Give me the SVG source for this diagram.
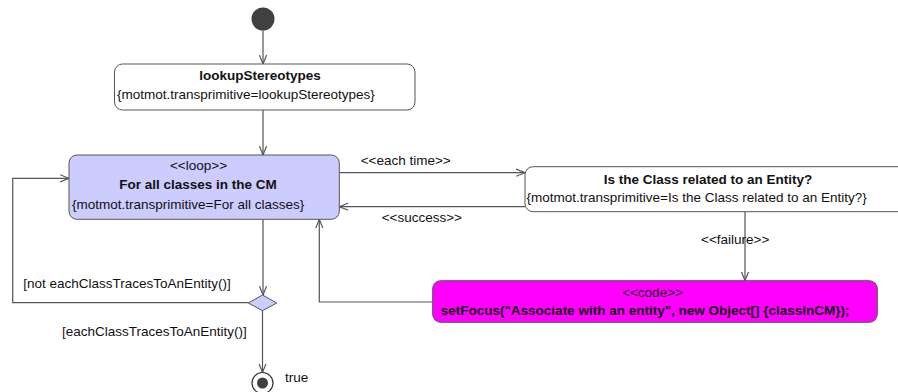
<svg xmlns="http://www.w3.org/2000/svg" width="898" height="392" viewBox="0 0 898 392">
  <style>
    text { font-family: "Liberation Sans", Arial, sans-serif; font-size: 13.5px; fill: #111; }
    .b { font-weight: bold; }
    .mid { text-anchor: middle; }
    .box { stroke: #555; stroke-width: 1; }
    .edge { fill: none; stroke: #555; stroke-width: 1.2; }
  </style>
  <defs>
    <marker id="arrow" viewBox="0 0 10 10" refX="10" refY="5" markerWidth="9" markerHeight="9" markerUnits="userSpaceOnUse" orient="auto">
      <path d="M0,1 L10,5 L0,9" fill="none" stroke="#555" stroke-width="1.3"/>
    </marker>
  </defs>

  <!-- connectors -->
  <g id="connectors">
    <path class="edge" d="M263,30.5 L263,64" marker-end="url(#arrow)"/>
    <path class="edge" d="M263,110 L263,155" marker-end="url(#arrow)"/>
    <path class="edge" d="M339.3,172.7 L525,172.7" marker-end="url(#arrow)"/>
    <path class="edge" d="M525,206.7 L339.3,206.7" marker-end="url(#arrow)"/>
    <path class="edge" d="M745,211.7 L745,280.7" marker-end="url(#arrow)"/>
    <path class="edge" d="M432.7,302 L319.3,302 L319.3,219.3" marker-end="url(#arrow)"/>
    <path class="edge" d="M263,219.3 L263,295" marker-end="url(#arrow)"/>
    <path class="edge" d="M248.3,302.7 L12.7,302.7 L12.7,178.3 L69,178.3" marker-end="url(#arrow)"/>
    <path class="edge" d="M262.5,310.7 L262.5,372.5" marker-end="url(#arrow)"/>
    <text x="360.7" y="165">&lt;&lt;each time&gt;&gt;</text>
    <text x="381.7" y="221.7">&lt;&lt;success&gt;&gt;</text>
    <text x="701" y="244">&lt;&lt;failure&gt;&gt;</text>
    <text x="23.3" y="288">[not eachClassTracesToAnEntity()]</text>
    <text x="62" y="336">[eachClassTracesToAnEntity()]</text>
  </g>

  <!-- start -->
  <g id="initial">
    <circle cx="263" cy="19" r="11.5" fill="#404040"/>
  </g>

  <g id="lookupStereotypes">
    <rect class="box" x="114.5" y="64" width="300.5" height="46" rx="8" fill="#fff"/>
    <text class="b mid" x="260" y="80">lookupStereotypes</text>
    <text x="117" y="99">{motmot.transprimitive=lookupStereotypes}</text>
  </g>

  <g id="forAllClasses">
    <rect class="box" x="69" y="155" width="270.3" height="64.3" rx="8" fill="#ccccff"/>
    <text class="mid" x="198.5" y="169.5">&lt;&lt;loop&gt;&gt;</text>
    <text class="b mid" x="198" y="188.5">For all classes in the CM</text>
    <text x="72" y="208.5">{motmot.transprimitive=For all classes}</text>
  </g>

  <g id="isRelatedToEntity">
    <rect class="box" x="525" y="166.7" width="400" height="45" rx="8" fill="#fff"/>
    <text class="b mid" x="708" y="183.5">Is the Class related to an Entity?</text>
    <text x="526.5" y="201.5">{motmot.transprimitive=Is the Class related to an Entity?}</text>
  </g>

  <g id="setFocus">
    <rect class="box" x="432.7" y="280.7" width="444.6" height="41.6" rx="8" fill="#ff00ff"/>
    <text class="mid" x="652.5" y="296.5">&lt;&lt;code&gt;&gt;</text>
    <text class="b" x="440.7" y="315">setFocus("Associate with an entity", new Object[] {classInCM});</text>
  </g>

  <g id="decision">
    <polygon class="box" points="248.3,303 262.5,295 276.7,303 262.5,310.7" fill="#ccccff"/>
  </g>

  <g id="final">
    <circle cx="262.5" cy="383" r="10.5" fill="#fff" stroke="#333" stroke-width="1.2"/>
    <circle cx="262.5" cy="383" r="5.5" fill="#404040"/>
    <text x="285" y="382">true</text>
  </g>
</svg>
